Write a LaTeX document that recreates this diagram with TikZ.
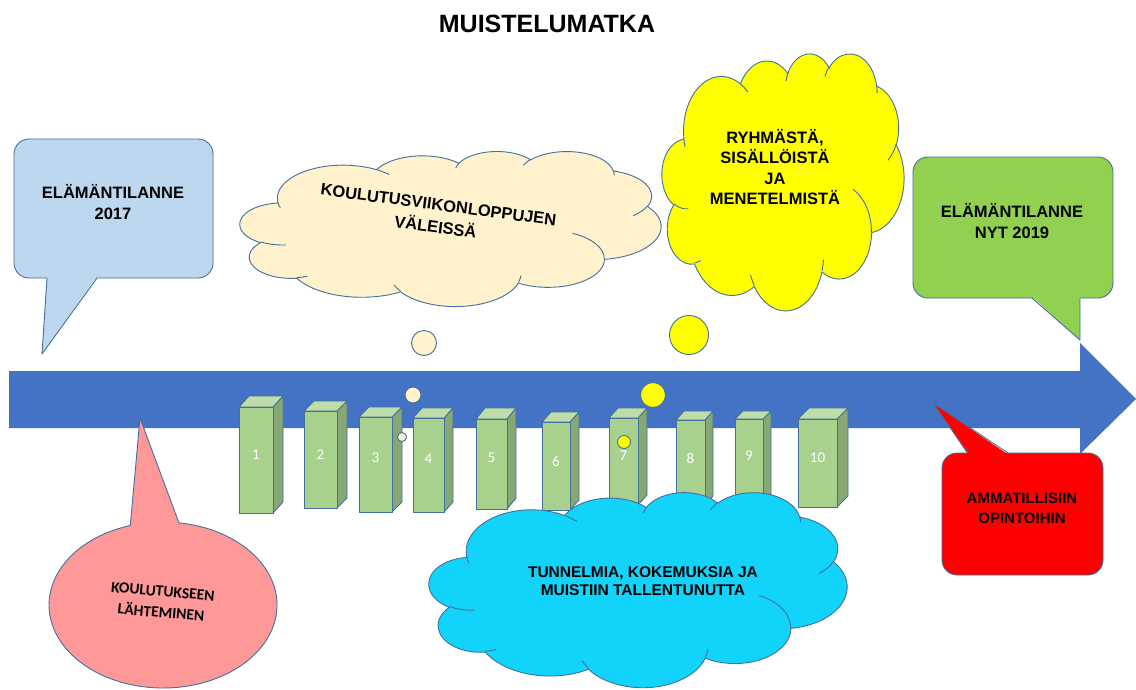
\documentclass[tikz,border=0pt]{standalone}
\usepackage{fontspec}
\setmainfont{Liberation Sans}
\newfontfamily\calfont{Carlito}

\definecolor{cEdge}{HTML}{41719C}
\definecolor{cArrow}{HTML}{4472C4}
\definecolor{cSky}{HTML}{BDD7EE}
\definecolor{cCream}{HTML}{FFF2CC}
\definecolor{cYellow}{HTML}{FFFF00}
\definecolor{cGreen}{HTML}{92D050}
\definecolor{cRed}{HTML}{FF0000}
\definecolor{cCyan}{HTML}{12D3FA}
\definecolor{cPink}{HTML}{FF9999}
\definecolor{cBarFront}{HTML}{A9D18E}
\definecolor{cBarTop}{HTML}{BFDDAA}
\definecolor{cBarSide}{HTML}{87A874}

% Cloud outline built from elliptic arcs on a 432 x 432 grid.
% Arc angles are given as visual angles and turned into parametric ones.
\newcommand\ooarc[4]{%
  \pgfmathsetmacro\oota{atan2((#1)*sin(#3),(#2)*cos(#3))}%
  \pgfmathsetmacro\ootb{atan2((#1)*sin((#3)+(#4)),(#2)*cos((#3)+(#4)))}%
  \pgfmathsetmacro\ootb{(\ootb)+360*round(((\oota)+(#4)-(\ootb))/360)}%
  \xdef\oopath{\oopath arc[x radius=#1,y radius=#2,start angle=\oota,end angle=\ootb]}}
\newcommand\oomove[2]{\xdef\oopath{\oopath (#1,#2)}}

\gdef\oopath{}
\oomove{39.00}{143.70}
\ooarc{67.53}{91.90}{-190.4875}{123.7805}
\ooarc{53.33}{72.67}{-144.1024}{89.9452}
\ooarc{43.65}{59.45}{-145.8079}{99.7230}
\ooarc{48.57}{65.95}{-130.9861}{117.2417}
\ooarc{53.33}{72.73}{-78.7089}{109.0269}
\ooarc{67.75}{92.20}{-46.2673}{130.2690}
\ooarc{57.85}{78.67}{0.6250}{114.0333}
\ooarc{67.52}{92.15}{22.4516}{115.1726}
\ooarc{77.20}{105.43}{66.2426}{75.7110}
\ooarc{43.60}{59.18}{-274.9421}{146.7356}
\ooarc{43.45}{59.45}{-246.8285}{152.5189}
\global\let\cloudouter\oopath

\gdef\oopath{}
\oomove{46.93}{261.77}\ooarc{43.45}{59.45}{86.7420}{26.4295}
\oomove{69.28}{348.99}\ooarc{43.60}{59.18}{73.6105}{11.4475}
\oomove{164.78}{390.90}\ooarc{67.52}{92.15}{137.6242}{14.0811}
\oomove{288.27}{347.51}\ooarc{67.52}{92.15}{6.4533}{15.9984}
\oomove{341.29}{229.54}\ooarc{57.85}{78.67}{-70.2924}{70.9174}
\oomove{417.98}{153.54}\ooarc{53.33}{72.73}{30.3180}{27.7515}
\oomove{383.24}{54.26}\ooarc{48.57}{65.95}{-13.7443}{14.8589}
\oomove{290.78}{39.52}\ooarc{48.57}{65.95}{-149.1815}{18.1954}
\oomove{221.41}{47.20}\ooarc{43.65}{59.45}{-163.4943}{17.6864}
\oomove{140.00}{51.92}\ooarc{67.53}{91.90}{-66.7070}{12.3194}
\oomove{41.27}{157.89}\ooarc{67.53}{91.90}{157.6544}{11.8582}
\global\let\cloudinner\oopath

\tikzset{
  edgeline/.style={draw=cEdge, line width=0.9pt, line join=round},
  bubble/.style={circle, edgeline, inner sep=0pt},
  txt/.style={align=center, inner sep=0pt, text=black, font=\bfseries\fontsize{16.5}{21}\selectfont},
  barnum/.style={inner sep=0pt, text=white, font=\calfont\fontsize{15}{18}\selectfont},
}

% cloud: name, left x, top y, width, height, fill colour
\newcommand\ppcloud[6]{%
  \pgfmathsetmacro\cldx{#4/432}\pgfmathsetmacro\cldy{#5/432}%
  \begin{scope}[shift={(#2,#3)}, x=\cldx pt, y=-\cldy pt]
    \path[edgeline, fill=#6] \cloudouter -- cycle;
    \path[edgeline] \cloudinner;
    \coordinate (#1) at (216,216);
  \end{scope}}

% 3-D bar: left x, right x, top y, bottom y, depth x, depth y, label, label y
\newcommand\prism[8]{%
  \filldraw[edgeline, fill=cBarSide] (#2,#3) -- (#2+#5,#3-#6) -- (#2+#5,#4-#6) -- (#2,#4) -- cycle;
  \filldraw[edgeline, fill=cBarTop] (#1,#3) -- (#1+#5,#3-#6) -- (#2+#5,#3-#6) -- (#2,#3) -- cycle;
  \filldraw[edgeline, fill=cBarFront] (#1,#3) rectangle (#2,#4);
  \node[barnum] (bar#7) at ({(#1+#2)/2},#8) {#7};}

\begin{document}
\begin{tikzpicture}[x=1pt, y=-1pt]
\useasboundingbox (0,0) rectangle (1136,689);
\fill[white] (0,0) rectangle (1136,689);

% title
\node[txt, font=\bfseries\fontsize{25}{30}\selectfont] (title) at (547,24) {MUISTELUMATKA};

% life situation 2017
\filldraw[edgeline, fill=cSky, rounded corners=15] (14,139) rectangle (213,278);
\fill[cSky] (47,276.5) -- (42,354) -- (97,276.5) -- cycle;
\draw[edgeline] (47,278) -- (42,354) -- (97,278);
\node[txt] (sit2017) at (113,202) {ELÄMÄNTILANNE\\2017};

% thought clouds above the timeline
\ppcloud{cream}{240}{151}{421}{155}{cCream}
\node[txt, rotate=-7.5, font=\bfseries\fontsize{16.5}{22.5}\selectfont] (weekends) at (437,216) {KOULUTUSVIIKONLOPPUJEN\\VÄLEISSÄ};

\ppcloud{yellow}{662}{53}{242}{257}{cYellow}
\node[txt, font=\bfseries\fontsize{16.5}{20.6}\selectfont] (group) at (775,167) {RYHMÄSTÄ,\\SISÄLLÖISTÄ\\JA\\MENETELMISTÄ};

% life situation 2019
\filldraw[edgeline, fill=cGreen, rounded corners=15] (913,157) rectangle (1113,298);
\fill[cGreen] (1032,296.5) -- (1080,340) -- (1080,296.5) -- cycle;
\draw[edgeline] (1032,298) -- (1080,340) -- (1080,298);
\node[txt] (sit2019) at (1012,221) {ELÄMÄNTILANNE\\NYT 2019};

% timeline arrow
\fill[cArrow] (9,371) -- (1080,371) -- (1080,343) -- (1136,399) -- (1080,454) -- (1080,428) -- (9,428) -- cycle;

% training weekends 1-10
\prism{239}{273}{407}{513}{10}{11}{1}{455}
\prism{304}{337}{411}{508}{10}{10}{2}{455}
\prism{359}{392}{417}{512}{10}{10}{3}{458}
\prism{413}{444}{418}{512}{9}{10}{4}{459}
\prism{476}{507}{419}{509}{9}{11}{5}{458}
\prism{542}{570}{422}{510}{9}{10}{6}{461}
\prism{609}{638}{418}{505}{9}{10}{7}{456}
\prism{676}{705}{420}{505}{8}{9}{8}{458}
\prism{735}{763}{419}{505}{8}{8}{9}{456}
\prism{798}{837}{419}{507}{11}{11}{10}{458}

% thought bubbles
\node[bubble, fill=cCream, minimum size=25] (cb1) at (424,343) {};
\node[bubble, fill=cCream, minimum size=16] (cb2) at (413,395) {};
\node[bubble, fill=cCream, minimum size=9] (cb3) at (402,437) {};
\node[bubble, fill=cYellow, minimum size=39] (yb1) at (689,335) {};
\node[bubble, fill=cYellow, minimum size=25] (yb2) at (653,395) {};
\node[bubble, fill=cYellow, minimum size=13] (yb3) at (624,442) {};

% memories cloud below the timeline
\ppcloud{cyan}{429}{492}{418}{195}{cCyan}
\node[txt, font=\bfseries\fontsize{15.5}{18}\selectfont] (memories) at (643,581) {TUNNELMIA, KOKEMUKSIA JA\\MUISTIIN TALLENTUNUTTA};

% vocational studies
\filldraw[edgeline, fill=cRed, rounded corners=15] (942,453) rectangle (1103,575);
\fill[cRed] (968,454.5) -- (933,403) -- (1008,454.5) -- cycle;
\draw[edgeline] (968,453) -- (933,403) -- (1008,453);
\node[txt, font=\bfseries\fontsize{15}{20}\selectfont] (studies) at (1022,508) {AMMATILLISIIN\\OPINTOIHIN};

% leaving for training
\filldraw[edgeline, fill=cPink] (140,418) -- (178.9,522.8) arc[start angle=-82, end angle=253.3, x radius=114, y radius=83] -- cycle;
\node[txt, rotate=-5, font=\calfont\bfseries\fontsize{15.5}{21}\selectfont] (leaving) at (162,602) {KOULUTUKSEEN\\LÄHTEMINEN};
\end{tikzpicture}
\end{document}
